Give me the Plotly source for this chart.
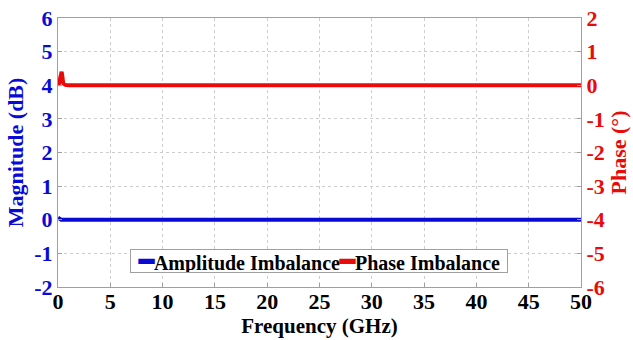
import plotly.graph_objects as go

freq = [0, 0.1, 0.2, 0.3, 0.35, 0.4, 0.5, 0.7, 1, 2, 5, 10, 15, 20, 25, 30, 35, 40, 45, 50]
amplitude = [0.06, 0.03, 0.01, 0.0, 0.0, 0.0, 0.0, 0.0, 0.0, 0.0, 0.0, 0.0, 0.0, 0.0, 0.0, 0.0, 0.0, 0.0, 0.0, 0.0]
phase = [0.0, 0.05, 0.2, 0.38, 0.4, 0.3, 0.06, 0.01, 0.0, 0.0, 0.0, 0.0, 0.0, 0.0, 0.0, 0.0, 0.0, 0.0, 0.0, 0.0]

x_ticks = [0, 5, 10, 15, 20, 25, 30, 35, 40, 45, 50]
left_ticks = [-2, -1, 0, 1, 2, 3, 4, 5, 6]
right_ticks = [-6, -5, -4, -3, -2, -1, 0, 1, 2]

BLUE = "rgb(10,10,215)"
RED = "rgb(235,10,10)"
FONT = "Liberation Serif"
AX = "rgb(160,160,160)"

fig = go.Figure()
fig.add_trace(go.Scatter(x=freq, y=amplitude, mode="lines", name="Amplitude Imbalance",
                         line=dict(color=BLUE, width=4), yaxis="y"))
fig.add_trace(go.Scatter(x=freq, y=phase, mode="lines", name="Phase Imbalance",
                         line=dict(color=RED, width=4), yaxis="y2"))

grid = dict(showgrid=True, gridcolor="rgb(205,205,205)", griddash="dot", gridwidth=1)

fig.update_layout(
    width=633, height=340,
    margin=dict(l=58, r=52, t=18, b=53),
    paper_bgcolor="white", plot_bgcolor="white",
    font=dict(family=FONT),
    showlegend=False,
    xaxis=dict(range=[0, 50], tickvals=x_ticks, ticktext=[f"<b>{v}</b>" for v in x_ticks],
               tickfont=dict(size=22, color="black", family=FONT), automargin=False,
               ticklabelstandoff=-5,
               title=dict(text="<b>Frequency (GHz)</b>", font=dict(size=21, color="black", family=FONT), standoff=2),
               showline=True, linecolor=AX, linewidth=1, mirror=True,
               ticks="inside", ticklen=4, tickcolor=AX, zeroline=False, **grid),
    yaxis=dict(range=[-2, 6], tickvals=left_ticks, ticktext=[f"<b>{v}</b>" for v in left_ticks],
               tickfont=dict(size=22, color=BLUE, family=FONT), automargin=False,
               title=dict(text="<b>Magnitude (dB)</b>", font=dict(size=22, color=BLUE, family=FONT), standoff=4),
               showline=True, linecolor=AX, linewidth=1,
               ticks="inside", ticklen=4, tickcolor=AX, zeroline=False, **grid),
    yaxis2=dict(range=[-6, 2], tickvals=right_ticks, ticktext=[f"<b>{v}</b>" for v in right_ticks],
                tickfont=dict(size=22, color=RED, family=FONT), automargin=False,
                title=dict(text="<b>Phase (°)</b>", font=dict(size=22, color=RED, family=FONT), standoff=6),
                overlaying="y", side="right", showgrid=False, zeroline=False,
                showline=True, linecolor=AX, linewidth=1,
                ticks="inside", ticklen=4, tickcolor=AX),
)

legend_text = ("<b><span style='color:%s;font-size:25px'>━</span>Amplitude Imbalance"
               "<span style='color:%s;font-size:25px'>━</span>Phase Imbalance</b>") % (BLUE, RED)
fig.add_annotation(xref="paper", yref="paper", x=0.499, y=0.098, xanchor="center", yanchor="middle",
                   text=legend_text, showarrow=False, bgcolor="white", bordercolor=AX, borderwidth=1,
                   borderpad=0, width=376, height=22,
                   font=dict(size=20, color="black", family=FONT))

fig.write_html("out.html")
